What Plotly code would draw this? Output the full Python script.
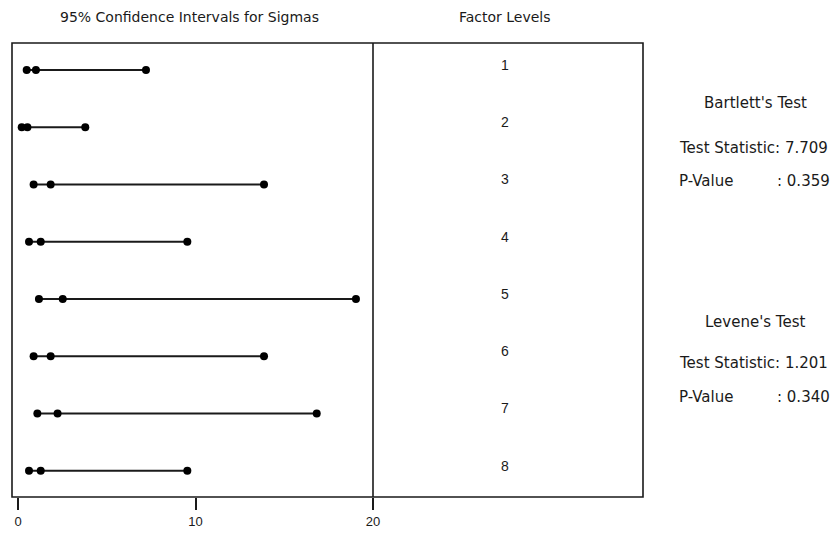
import plotly.graph_objects as go

# ---- data ----
levels = ["1", "2", "3", "4", "5", "6", "7", "8"]
lower = [0.49, 0.21, 0.88, 0.62, 1.18, 0.88, 1.09, 0.62]
sigma = [1.01, 0.53, 1.84, 1.28, 2.52, 1.84, 2.23, 1.28]
upper = [7.21, 3.79, 13.86, 9.54, 19.04, 13.86, 16.83, 9.54]
x_ticks = [0, 10, 20]
bartlett = {"stat": "7.709", "p": "0.359"}
levene = {"stat": "1.201", "p": "0.340"}

FONT = "DejaVu Sans, Verdana, sans-serif"
DFONT = "Liberation Sans, Arial, sans-serif"
INK = "#1a1a1a"

W, H = 835, 533
L, R, T, B = 12, 835 - 643, 43, 533 - 497
pw = W - L - R
ph = H - T - B

def px(xpix):
    return (xpix - L) / pw

def py(ypix):
    return (H - B - ypix) / ph

split = px(373)

xs, ys = [], []
for i, (lo, s, up) in enumerate(zip(lower, sigma, upper)):
    xs += [lo, s, up, None]
    ys += [i + 1, i + 1, i + 1, None]

fig = go.Figure()
fig.add_trace(go.Scatter(
    x=xs, y=ys, mode="lines+markers",
    line=dict(color=INK, width=2),
    marker=dict(color="black", size=8, symbol="circle"),
    hoverinfo="skip", showlegend=False, cliponaxis=False,
))

fig.update_layout(
    width=W, height=H,
    margin=dict(l=L, r=R, t=T, b=B, autoexpand=False),
    paper_bgcolor="white", plot_bgcolor="white",
    font=dict(family=FONT, color=INK),
    xaxis=dict(domain=[0, split], range=[-0.338, 20.0], automargin=False,
               tickvals=x_ticks, ticktext=[str(v) for v in x_ticks],
               ticks="outside", ticklen=12, tickwidth=1.5, tickcolor=INK,
               showgrid=False, zeroline=False, showline=False,
               tickfont=dict(size=13, family=DFONT, color=INK)),
    yaxis=dict(range=[8.46, 0.528], showticklabels=False, ticks="", automargin=False,
               showgrid=False, zeroline=False, showline=False),
)

# frame and divider
fig.add_shape(type="rect", xref="paper", yref="paper", x0=0, x1=1, y0=0, y1=1,
              line=dict(color=INK, width=1.6))
fig.add_shape(type="line", xref="paper", yref="paper", x0=split, x1=split, y0=0, y1=1,
              line=dict(color=INK, width=1.6))

# factor level labels
for i, lab in enumerate(levels):
    fig.add_annotation(x=px(505), xref="paper", y=i + 1, yref="y", text=lab,
                       xanchor="center", yanchor="middle",
                       showarrow=False, yshift=5, font=dict(size=14, family=DFONT, color=INK))

# headings
fig.add_annotation(x=px(190), y=py(17), xref="paper", yref="paper",
                   xanchor="center", yanchor="middle",
                   text="95% Confidence Intervals for Sigmas", showarrow=False,
                   font=dict(size=14, family=FONT, color=INK))
fig.add_annotation(x=px(505), y=py(17), xref="paper", yref="paper",
                   xanchor="center", yanchor="middle",
                   text="Factor Levels", showarrow=False,
                   font=dict(size=14, family=FONT, color=INK))

def side(text, xpix, ypix, anchor):
    fig.add_annotation(x=px(xpix), y=py(ypix), xref="paper", yref="paper",
                       text=text, showarrow=False, xanchor=anchor, yanchor="middle",
                       font=dict(size=15, family=FONT, color=INK))

side("Bartlett's Test", 755, 103, "center")
side("Test Statistic: " + bartlett["stat"], 677, 148, "left")
side("P-Value", 677, 181, "left")
side(": " + bartlett["p"], 832, 181, "right")
side("Levene's Test", 755, 322, "center")
side("Test Statistic: " + levene["stat"], 677, 363, "left")
side("P-Value", 677, 397, "left")
side(": " + levene["p"], 832, 397, "right")

fig.write_html("out.html")
